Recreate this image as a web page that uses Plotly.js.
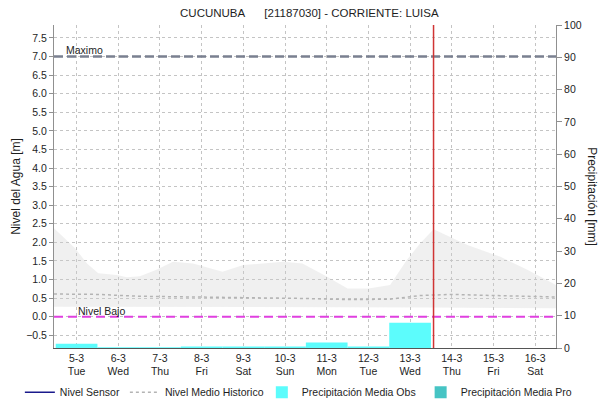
<!DOCTYPE html>
<html>
<head>
<meta charset="utf-8">
<script src="https://cdn.plot.ly/plotly-3.0.1.min.js"></script>
<style>html,body{margin:0;padding:0;background:#fff;}#chart{width:603px;height:404px;}</style>
</head>
<body>
<div id="chart"></div>
<script>
// ---- data ----
const dayTicks = ["2024-03-05","2024-03-06","2024-03-07","2024-03-08","2024-03-09","2024-03-10","2024-03-11","2024-03-12","2024-03-13","2024-03-14","2024-03-15","2024-03-16"];
const dayLabels = ["5-3<br>Tue","6-3<br>Wed","7-3<br>Thu","8-3<br>Fri","9-3<br>Sat","10-3<br>Sun","11-3<br>Mon","12-3<br>Tue","13-3<br>Wed","14-3<br>Thu","15-3<br>Fri","16-3<br>Sat"];

const bandTimes = ["2024-03-04 11:00","2024-03-04 23:00","2024-03-05 06:00","2024-03-05 12:30","2024-03-05 23:00","2024-03-06 05:00","2024-03-06 12:30","2024-03-06 22:00","2024-03-07 07:30","2024-03-07 19:00","2024-03-08 12:00","2024-03-09 00:00","2024-03-09 23:00","2024-03-10 10:00","2024-03-11 00:00","2024-03-11 12:00","2024-03-12 00:00","2024-03-12 12:30","2024-03-12 22:00","2024-03-13 06:00","2024-03-13 13:30","2024-03-14 09:00","2024-03-15 04:00","2024-03-15 19:30","2024-03-16 12:00"];
const bandUpper = [2.38,1.85,1.43,1.17,1.12,1.06,1.09,1.26,1.48,1.43,1.21,1.39,1.48,1.43,1.08,0.76,0.76,0.85,1.52,1.98,2.35,1.93,1.61,1.26,0.85];
const bandLower = [0.27,0.27,0.27,0.27,0.27,0.27,0.27,0.27,0.27,0.27,0.26,0.26,0.26,0.26,0.26,0.26,0.26,0.26,0.26,0.25,0.25,0.24,0.24,0.23,0.23];

const medioTimes = ["2024-03-04 11:00","2024-03-05 12:00","2024-03-06 12:00","2024-03-07 12:00","2024-03-08 12:00","2024-03-09 12:00","2024-03-10 12:00","2024-03-11 12:00","2024-03-12 12:00","2024-03-13 06:00","2024-03-14 00:00","2024-03-15 00:00","2024-03-16 12:00"];
const medioValues = [0.61,0.60,0.55,0.54,0.52,0.51,0.49,0.46,0.47,0.57,0.60,0.57,0.53];

// sensor: no readings in the displayed window
const sensorTimes = ["2024-03-13 13:30"];
const sensorValues = [null];

const precipObsDates = ["2024-03-05","2024-03-06","2024-03-07","2024-03-08","2024-03-09","2024-03-10","2024-03-11","2024-03-12","2024-03-13"];
const precipObsValues = [1.3,0.25,0.25,0.45,0.45,0.45,1.7,0.5,7.8];
const precipProDates = ["2024-03-14","2024-03-15","2024-03-16"];
const precipProValues = [0,0,0];

const nivelMaximo = 7.0;
const nivelBajo = 0.0;
const ahora = "2024-03-13 13:30";
const xRange = ["2024-03-04 11:00","2024-03-16 12:00"];
const DAY = 86400000;

// ---- traces ----
const traces = [
  {x: bandTimes, y: bandLower, type:'scatter', mode:'lines', line:{width:0, color:'rgba(0,0,0,0)'}, showlegend:false, hoverinfo:'skip'},
  {x: bandTimes, y: bandUpper, type:'scatter', mode:'lines', line:{width:0, color:'rgba(0,0,0,0)'}, fill:'tonexty', fillcolor:'rgba(205,205,205,0.30)', showlegend:false, hoverinfo:'skip'},
  {x: sensorTimes, y: sensorValues, type:'scatter', mode:'lines', name:'Nivel Sensor', line:{color:'#1a1a8c', width:1.5}, legend:'legend'},
  {x: medioTimes, y: medioValues, type:'scatter', mode:'lines', name:'Nivel Medio Historico', line:{color:'#b4b4b4', width:1.5, dash:'3px,3px'}, legend:'legend'},
  {x: precipObsDates, y: precipObsValues, type:'bar', name:'Precipitación Media Obs', yaxis:'y2', width: DAY, marker:{color:'#5cfcfc', line:{width:0}}, legend:'legend2'},
  {x: precipProDates, y: precipProValues, type:'bar', name:'Precipitación Media Pro', yaxis:'y2', width: DAY, marker:{color:'#46c4c4', line:{width:0}}, legend:'legend2'}
];

const font = {family:'Liberation Sans, Arial, sans-serif', size:11, color:'#1e1e1e'};
const legendCommon = {orientation:'h', traceorder:'normal', xanchor:'left', y:-0.092, yanchor:'top', font:{size:10.5}, itemwidth:30, tracegroupgap:0, bgcolor:'rgba(0,0,0,0)'};

const layout = {
  width:603, height:404,
  margin:{l:54, r:47, t:25, b:56, pad:0, autoexpand:false},
  paper_bgcolor:'#fff', plot_bgcolor:'#fff',
  font: font,
  showlegend:true,
  barmode:'overlay',
  title:{text:'CUCUNUBA\u00a0\u00a0\u00a0\u00a0\u00a0\u00a0[21187030] - CORRIENTE: LUISA', x:0.513, xanchor:'center', y:0.968, yanchor:'middle', font:{family:font.family, size:11.5, color:'#1e1e1e'}},
  xaxis:{
    type:'date', range:xRange, tickmode:'array', tickvals:dayTicks, ticktext:dayLabels,
    showgrid:true, gridcolor:'#c4c4c4', griddash:'3px,3px', gridwidth:1,
    showline:true, linecolor:'#555', linewidth:1, mirror:false,
    ticks:'', zeroline:false, tickfont:{size:10.5}
  },
  yaxis:{
    range:[-0.842, 7.847], tickmode:'linear', tick0:0, dtick:0.5, tickformat:'.1f',
    showgrid:true, gridcolor:'#c4c4c4', griddash:'3px,3px', gridwidth:1,
    showline:true, linecolor:'#909090', linewidth:1, ticks:'outside', ticklen:4, tickcolor:'#909090',
    zeroline:false, tickfont:{size:10.5},
    title:{text:'Nivel del Agua [m]', standoff:2, font:{size:12}}
  },
  yaxis2:{
    overlaying:'y', side:'right', range:[0,100], tickmode:'linear', tick0:0, dtick:10,
    showgrid:false, showline:true, linecolor:'#909090', linewidth:1, ticks:'outside', ticklen:5, tickcolor:'#909090',
    zeroline:false, tickfont:{size:10.5}
  },
  legend: Object.assign({}, legendCommon, {x:-0.068}),
  legend2: Object.assign({}, legendCommon, {x:0.414}),
  shapes:[
    {type:'line', xref:'paper', x0:0, x1:1, yref:'y', y0:nivelMaximo, y1:nivelMaximo, line:{color:'#7a8090', width:2.5, dash:'9px,4px'}},
    {type:'line', xref:'paper', x0:0, x1:1, yref:'y', y0:nivelBajo, y1:nivelBajo, line:{color:'#e040e0', width:2, dash:'9px,5px'}},
    {type:'line', xref:'x', x0:ahora, x1:ahora, yref:'paper', y0:0, y1:1, line:{color:'#d03434', width:1.5}}
  ],
  annotations:[
    {text:'Maximo', xref:'paper', x:0.02, xanchor:'left', yref:'y', y:nivelMaximo, yanchor:'bottom', showarrow:false, font:{size:10.5}, yshift:-2},
    {text:'Nivel Bajo', xref:'paper', x:0.044, xanchor:'left', yref:'y', y:nivelBajo, yanchor:'bottom', showarrow:false, font:{size:10.5}, yshift:-2},
    {text:'Precipitación [mm]', xref:'paper', x:1, xanchor:'center', xshift:36, yref:'paper', y:0.47, yanchor:'middle', textangle:90, showarrow:false, font:{size:12}}
  ]
};

Plotly.newPlot('chart', traces, layout, {displayModeBar:false, staticPlot:true});
</script>
</body>
</html>
